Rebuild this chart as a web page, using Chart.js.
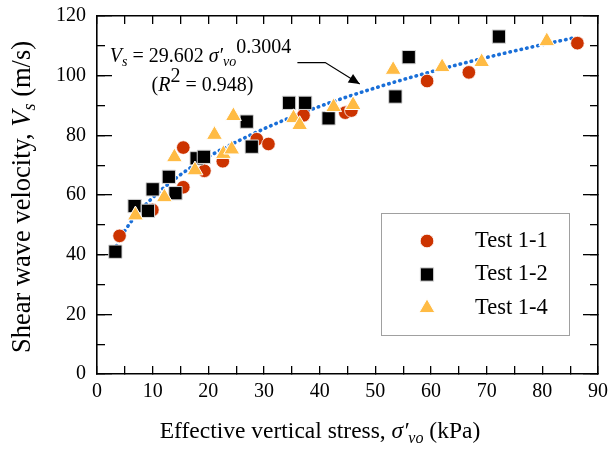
<!DOCTYPE html>
<html>
<head>
<meta charset="utf-8">
<script src="https://cdn.jsdelivr.net/npm/chart.js@4/dist/chart.umd.min.js"></script>
<style>
  html, body { margin: 0; padding: 0; background: #fff; }
  #wrap { width: 611px; height: 450px; }
</style>
</head>
<body>
<div id="wrap"><canvas id="chart" width="611" height="450"></canvas></div>
<script>
// values
const TEST_1_1_X = [4.05, 9.95, 15.5, 15.5, 19.3, 22.6, 28.7, 30.8, 37.1, 44.6, 45.7, 59.3, 66.8, 86.3];
const TEST_1_1_Y = [46.3, 55.0, 62.6, 75.9, 68.1, 71.3, 78.7, 77.1, 86.7, 87.6, 88.3, 98.2, 101.1, 110.9];

const TEST_1_2_X = [3.3, 6.75, 9.15, 10.0, 12.9, 14.1, 17.9, 19.2, 26.9, 27.8, 34.5, 37.4, 41.6, 53.6, 56.0, 72.2];
const TEST_1_2_Y = [41.0, 56.3, 54.7, 61.9, 66.1, 60.6, 72.3, 72.8, 84.6, 76.2, 90.9, 90.9, 85.7, 93.0, 106.2, 113.1];

const TEST_1_4_X = [6.9, 12.1, 13.9, 17.6, 21.1, 22.7, 24.2, 24.5, 35.3, 36.4, 42.5, 46.0, 53.2, 62.0, 69.1, 80.8];
const TEST_1_4_Y = [53.2, 59.3, 72.7, 68.3, 80.2, 73.8, 75.3, 86.5, 85.8, 83.5, 89.5, 90.2, 102.0, 102.9, 104.6, 111.6];

// power-law fit curve, sampled along the dotted line
const FIT_X = [3, 5, 7, 10, 15, 20, 30, 40, 50, 60, 70, 80, 86];
const FIT_Y = [41.2, 48.0, 53.1, 59.1, 66.8, 72.8, 82.2, 89.7, 95.9, 101.3, 106.1, 110.4, 112.8];

const SERIES_LABELS = ["Test 1-1", "Test 1-2", "Test 1-4"];

const RED = "#cc3300";
const YELLOW = "#ffbb44";
const BLUE = "#1a6fd8";
const SERIF = "'Liberation Serif', serif";

Chart.defaults.font.family = SERIF;

const toPoints = (xs, ys) => xs.map((x, i) => ({ x, y: ys[i] }));

function fontOf(p) {
  return `${p.italic ? "italic " : ""}${p.size}px ${SERIF}`;
}

// draws text made of several runs (italic, sub/superscripts)
function drawRuns(ctx, runs, x, y, align) {
  let total = 0;
  runs.forEach((r) => {
    ctx.font = fontOf(r);
    total += ctx.measureText(r.t).width;
  });
  let cx = align === "center" ? x - total / 2 : x;
  runs.forEach((r) => {
    ctx.font = fontOf(r);
    ctx.fillText(r.t, cx, y + (r.dy || 0));
    cx += ctx.measureText(r.t).width;
  });
}

// axis titles, fit equation with arrow, legend box
const labels = {
  id: "labels",
  afterDraw(chart) {
    const { ctx, scales } = chart;
    const xs = scales.x;
    const ys = scales.y;
    ctx.save();
    ctx.setLineDash([]);
    ctx.fillStyle = "#000";
    ctx.strokeStyle = "#000";
    ctx.textBaseline = "alphabetic";

    drawRuns(ctx, [
      { t: "Effective vertical stress, ", size: 23.5 },
      { t: "σ′", size: 23.5, italic: true },
      { t: "vo", size: 16, italic: true, dy: 5 },
      { t: " (kPa)", size: 23.5 },
    ], 320, 438, "center");

    ctx.save();
    ctx.translate(30, 197);
    ctx.rotate(-Math.PI / 2);
    drawRuns(ctx, [
      { t: "Shear wave velocity, ", size: 26.5 },
      { t: "V", size: 26.5, italic: true },
      { t: "s", size: 18, italic: true, dy: 5 },
      { t: " (m/s)", size: 26.5 },
    ], 0, 0, "center");
    ctx.restore();

    drawRuns(ctx, [
      { t: "V", size: 20, italic: true },
      { t: "s", size: 14, italic: true, dy: 4 },
      { t: " = 29.602 ", size: 20 },
      { t: "σ′", size: 20, italic: true },
      { t: "vo", size: 14, italic: true, dy: 4 },
      { t: "0.3004", size: 20, dy: -9 },
    ], xs.getPixelForValue(2.3), ys.getPixelForValue(104.6), "left");
    drawRuns(ctx, [
      { t: "(", size: 20 },
      { t: "R", size: 20, italic: true },
      { t: "2", size: 20, dy: -9 },
      { t: " = 0.948)", size: 20 },
    ], xs.getPixelForValue(9.8), ys.getPixelForValue(95.0), "left");

    const p0 = [xs.getPixelForValue(36.0), ys.getPixelForValue(104.4)];
    const p1 = [xs.getPixelForValue(41.0), ys.getPixelForValue(104.4)];
    const p2 = [xs.getPixelForValue(47.2), ys.getPixelForValue(97.2)];
    ctx.lineWidth = 1.2;
    ctx.beginPath();
    ctx.moveTo(p0[0], p0[1]);
    ctx.lineTo(p1[0], p1[1]);
    ctx.lineTo(p2[0], p2[1]);
    ctx.stroke();
    const ang = Math.atan2(p2[1] - p1[1], p2[0] - p1[0]);
    const hl = 11, hw = 5;
    ctx.beginPath();
    ctx.moveTo(p2[0], p2[1]);
    ctx.lineTo(p2[0] - hl * Math.cos(ang) + hw * Math.sin(ang), p2[1] - hl * Math.sin(ang) - hw * Math.cos(ang));
    ctx.lineTo(p2[0] - hl * Math.cos(ang) - hw * Math.sin(ang), p2[1] - hl * Math.sin(ang) + hw * Math.cos(ang));
    ctx.closePath();
    ctx.fill();

    ctx.strokeStyle = "#a0a0a0";
    ctx.lineWidth = 1;
    ctx.strokeRect(381.5, 213.5, 188, 122);
    [0, 1, 2].forEach((i) => {
      const ds = chart.data.datasets[i];
      const ly = 241 + i * 33.5;
      ctx.fillStyle = ds.backgroundColor;
      ctx.strokeStyle = ds.pointBorderColor;
      ctx.lineWidth = ds.pointBorderWidth;
      Chart.helpers.drawPoint(ctx, {
        pointStyle: ds.pointStyle,
        radius: ds.pointRadius,
        rotation: 0,
        borderWidth: ds.pointBorderWidth,
      }, 427, ly);
      ctx.fillStyle = "#000";
      ctx.font = `22.5px ${SERIF}`;
      ctx.textBaseline = "middle";
      ctx.fillText(SERIES_LABELS[i], 475, ly);
    });

    ctx.restore();
  },
};

// inward tick marks: negative tick length, no grid inside the plot
const tickGrid = (len) => ({
  display: true,
  drawOnChartArea: false,
  drawTicks: true,
  tickLength: -len,
  color: "#000",
  lineWidth: 1.3,
});
const frameBorder = { display: true, color: "#000", width: 1.6 };

// fixed box sizes, and no extra label padding pushed into the layout
const fixSize = (w, h) => (scale) => {
  if (w !== null) scale.width = w;
  if (h !== null) scale.height = h;
  scale.paddingLeft = 0;
  scale.paddingRight = 0;
  scale.paddingTop = 0;
  scale.paddingBottom = 0;
};

new Chart(document.getElementById("chart"), {
  type: "scatter",
  data: {
    datasets: [
      {
        label: SERIES_LABELS[0],
        data: toPoints(TEST_1_1_X, TEST_1_1_Y),
        pointStyle: "circle",
        pointRadius: 6.8,
        backgroundColor: RED,
        pointBackgroundColor: RED,
        pointBorderColor: "#ffffff",
        pointBorderWidth: 0.8,
        order: 3,
      },
      {
        label: SERIES_LABELS[1],
        data: toPoints(TEST_1_2_X, TEST_1_2_Y),
        pointStyle: "rect",
        pointRadius: 9.4,
        backgroundColor: "#000000",
        pointBackgroundColor: "#000000",
        pointBorderColor: "#d8d8d8",
        pointBorderWidth: 1,
        order: 2,
      },
      {
        label: SERIES_LABELS[2],
        data: toPoints(TEST_1_4_X, TEST_1_4_Y),
        pointStyle: "triangle",
        pointRadius: 9.2,
        backgroundColor: YELLOW,
        pointBackgroundColor: YELLOW,
        pointBorderColor: "#ffffff",
        pointBorderWidth: 1,
        order: 1,
      },
      {
        label: "Fit",
        data: toPoints(FIT_X, FIT_Y),
        showLine: true,
        pointRadius: 0,
        borderColor: BLUE,
        borderWidth: 3.6,
        borderDash: [0.5, 5.2],
        borderCapStyle: "round",
        cubicInterpolationMode: "monotone",
        order: 4,
      },
    ],
  },
  options: {
    responsive: false,
    animation: false,
    layout: { padding: { top: 16, right: 13, left: 0, bottom: 0 } },
    scales: {
      x: {
        type: "linear",
        position: "bottom",
        min: 0,
        max: 90,
        grid: tickGrid(8),
        border: frameBorder,
        ticks: {
          stepSize: 5,
          autoSkip: false,
          maxRotation: 0,
          padding: 14,
          color: "#000",
          font: { family: SERIF, size: 20 },
          callback: (v) => (v % 10 === 0 ? v : ""),
        },
        afterFit: fixSize(null, 76),
      },
      xTop: {
        type: "linear",
        position: "top",
        min: 0,
        max: 90,
        grid: tickGrid(8),
        border: frameBorder,
        ticks: { stepSize: 5, autoSkip: false, display: false },
        afterFit: fixSize(null, 0),
      },
      y: {
        type: "linear",
        position: "left",
        weight: 2,
        min: 0,
        max: 120,
        grid: tickGrid(15),
        border: frameBorder,
        ticks: {
          stepSize: 20,
          padding: 26,
          color: "#000",
          font: { family: SERIF, size: 20 },
        },
        afterFit: fixSize(97, null),
      },
      yMinor: {
        type: "linear",
        position: "left",
        weight: 0,
        min: 0,
        max: 120,
        grid: tickGrid(8),
        border: { display: false },
        ticks: { stepSize: 10, autoSkip: false, display: false },
        afterFit: fixSize(0, null),
      },
      yRight: {
        type: "linear",
        position: "right",
        weight: 0,
        min: 0,
        max: 120,
        grid: tickGrid(15),
        border: frameBorder,
        ticks: { stepSize: 20, display: false },
        afterFit: fixSize(0, null),
      },
      yRightMinor: {
        type: "linear",
        position: "right",
        weight: 1,
        min: 0,
        max: 120,
        grid: tickGrid(8),
        border: { display: false },
        ticks: { stepSize: 10, autoSkip: false, display: false },
        afterFit: fixSize(0, null),
      },
    },
    plugins: {
      legend: { display: false },
      tooltip: { enabled: false },
    },
  },
  plugins: [labels],
});
</script>
</body>
</html>
